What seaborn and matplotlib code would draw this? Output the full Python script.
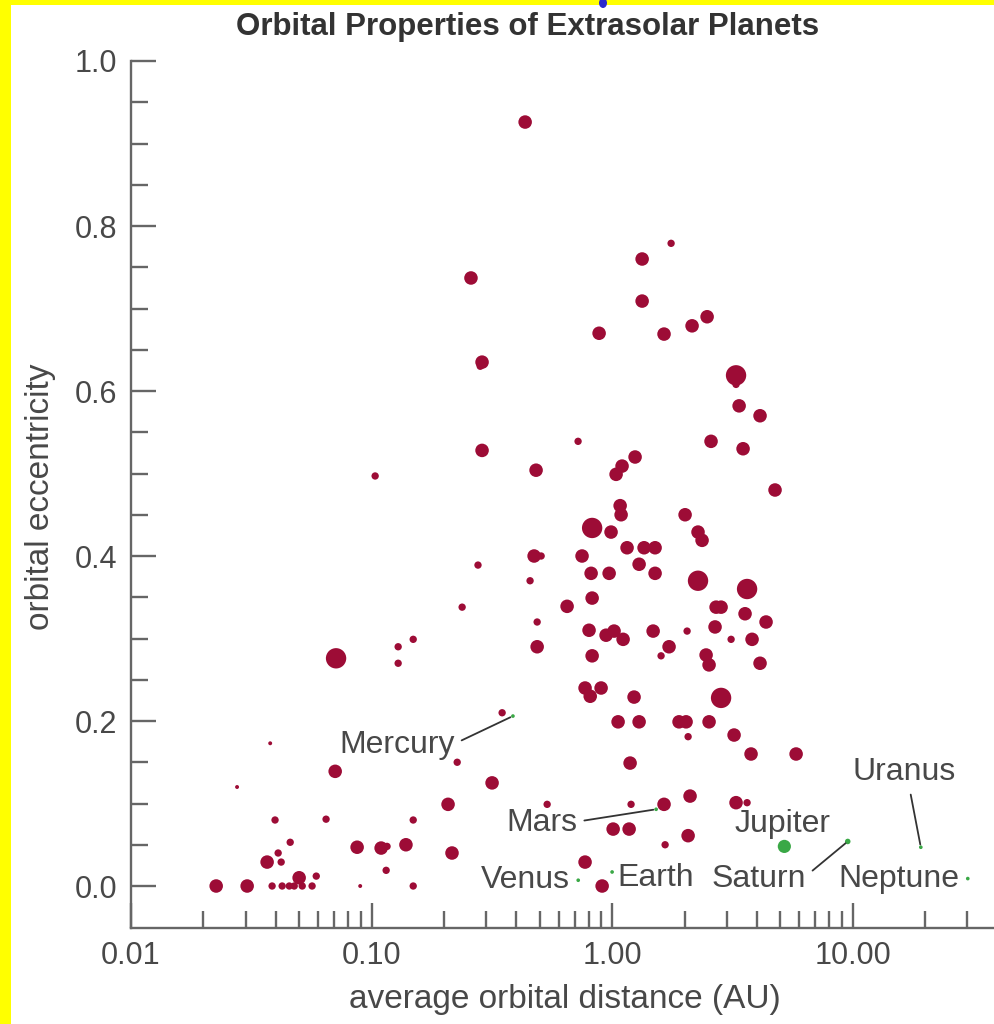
import matplotlib
matplotlib.use("Agg")
import matplotlib.pyplot as plt
import matplotlib.ticker as mticker
from matplotlib.patches import Rectangle, Ellipse
import seaborn as sns
import pandas as pd

# ---------------- data ----------------
exo_distance_au = [
    0.0226, 0.0304, 0.0386, 0.0425, 0.0455, 0.0477, 0.050, 0.0515, 0.0566, 0.0589,
    0.0368, 0.0409, 0.0421, 0.0459, 0.0397, 0.0276, 0.0379, 0.0706, 0.0647, 0.0897,
    0.0871, 0.1096, 0.116, 0.139, 0.115, 0.149, 0.149, 0.208, 0.216, 0.227,
    0.317, 0.349, 0.537, 0.0712, 0.129, 0.129, 0.149, 0.1035, 0.238, 0.277,
    0.456, 0.488, 0.488, 0.474, 0.507, 0.650, 0.288, 0.483, 0.288, 0.283,
    0.259, 0.435, 0.722, 0.883, 1.333, 1.333, 1.759, 1.644, 2.150, 2.483,
    3.275, 3.373, 4.121, 2.578, 3.503, 4.757, 1.039, 1.100, 1.246, 1.080,
    1.090, 2.011, 0.826, 0.990, 2.276, 2.366, 1.154, 1.358, 1.509, 0.750,
    1.295, 0.818, 0.972, 1.509, 2.276, 3.640, 0.826, 2.706, 2.838, 3.570,
    4.365, 0.802, 0.944, 1.019, 1.111, 1.481, 2.050, 2.679, 3.124, 3.818,
    0.826, 1.725, 1.598, 2.459, 2.530, 4.121, 0.772, 0.811, 0.900, 1.234,
    2.838, 1.059, 1.295, 1.898, 2.030, 2.530, 2.070, 3.214, 1.188, 3.781,
    5.820, 1.199, 1.644, 2.109, 3.275, 3.640, 1.010, 1.177, 2.070, 1.661,
    0.772, 0.909, 3.275,
]
exo_eccentricity = [
    0.000, 0.000, 0.000, 0.000, 0.000, 0.000, 0.010, 0.000, 0.000, 0.012,
    0.029, 0.040, 0.029, 0.053, 0.080, 0.120, 0.173, 0.139, 0.081, 0.000,
    0.047, 0.046, 0.048, 0.050, 0.019, 0.000, 0.080, 0.099, 0.040, 0.150,
    0.125, 0.210, 0.099, 0.276, 0.290, 0.270, 0.299, 0.497, 0.338, 0.389,
    0.370, 0.320, 0.290, 0.400, 0.400, 0.339, 0.528, 0.504, 0.635, 0.630,
    0.737, 0.926, 0.539, 0.670, 0.760, 0.709, 0.779, 0.669, 0.679, 0.690,
    0.619, 0.582, 0.570, 0.539, 0.530, 0.480, 0.499, 0.509, 0.520, 0.461,
    0.450, 0.450, 0.434, 0.429, 0.429, 0.419, 0.410, 0.410, 0.410, 0.400,
    0.390, 0.379, 0.379, 0.379, 0.370, 0.360, 0.349, 0.338, 0.338, 0.330,
    0.320, 0.310, 0.304, 0.309, 0.299, 0.309, 0.309, 0.314, 0.299, 0.299,
    0.279, 0.290, 0.279, 0.280, 0.268, 0.270, 0.240, 0.230, 0.240, 0.229,
    0.228, 0.199, 0.199, 0.199, 0.199, 0.199, 0.181, 0.183, 0.149, 0.160,
    0.160, 0.099, 0.099, 0.109, 0.101, 0.101, 0.069, 0.069, 0.061, 0.050,
    0.029, 0.000, 0.608,
]
# relative planet-mass class (1 = tiny ... 4 = large)
exo_mass_class = [
    3, 3, 2, 2, 2, 2, 3, 2, 2, 2,
    3, 2, 2, 2, 2, 1, 1, 3, 2, 1,
    3, 3, 2, 3, 2, 2, 2, 3, 3, 2,
    3, 2, 2, 4, 2, 2, 2, 2, 2, 2,
    2, 2, 3, 3, 2, 3, 3, 3, 3, 2,
    3, 3, 2, 3, 3, 3, 2, 3, 3, 3,
    4, 3, 3, 3, 3, 3, 3, 3, 3, 3,
    3, 3, 4, 3, 3, 3, 3, 3, 3, 3,
    3, 3, 3, 3, 4, 4, 3, 3, 3, 3,
    3, 3, 3, 3, 3, 3, 2, 3, 2, 3,
    3, 3, 2, 3, 3, 3, 3, 3, 3, 3,
    4, 3, 3, 3, 3, 3, 2, 3, 3, 3,
    3, 2, 3, 3, 3, 2, 3, 3, 3, 2,
    3, 3, 2,
]

solar_names = ["Mercury", "Venus", "Earth", "Mars", "Jupiter", "Saturn", "Uranus", "Neptune"]
solar_distance_au = [0.387, 0.723, 1.000, 1.524, 5.20, 9.54, 19.2, 30.1]
solar_eccentricity = [0.206, 0.007, 0.017, 0.093, 0.048, 0.054, 0.047, 0.009]
solar_mass_class = [1, 1, 1, 1, 3, 2, 1, 1]

x_tick_values = [0.01, 0.1, 1.0, 10.0]
x_tick_labels = ["0.01", "0.10", "1.00", "10.00"]
y_tick_values = [0.0, 0.2, 0.4, 0.6, 0.8, 1.0]
y_tick_labels = ["0.0", "0.2", "0.4", "0.6", "0.8", "1.0"]
y_minor_values = [0.05, 0.10, 0.15, 0.25, 0.30, 0.35, 0.45, 0.50, 0.55,
                  0.65, 0.70, 0.75, 0.85, 0.90, 0.95]

title = "Orbital Properties of Extrasolar Planets"
xlabel = "average orbital distance (AU)"
ylabel = "orbital eccentricity"

# ---------------- style ----------------
sns.set_style("ticks")
plt.rcParams["font.family"] = ["Liberation Sans", "DejaVu Sans"]

RED = "#9d0c36"
GREEN = "#3aa846"
TEXT = "#484848"
AXIS = "#666666"

exo = pd.DataFrame({"distance": exo_distance_au, "ecc": exo_eccentricity, "mass": exo_mass_class})
sol = pd.DataFrame({"name": solar_names, "distance": solar_distance_au,
                    "ecc": solar_eccentricity, "mass": solar_mass_class})

fig = plt.figure(figsize=(9.95, 10.24), dpi=100)
fig.patch.set_facecolor("white")
ax = fig.add_axes([131 / 995, 96 / 1024, 864 / 995, 867 / 1024])
ax.set_xscale("log")

size_map = {1: 8, 2: 28, 3: 95, 4: 215}
sns.scatterplot(data=exo, x="distance", y="ecc", size="mass", sizes=size_map,
                color=RED, edgecolor="none", linewidth=0, legend=False, ax=ax,
                clip_on=False, zorder=3)
sol_size_map = {1: 7, 2: 16, 3: 90}
sns.scatterplot(data=sol, x="distance", y="ecc", size="mass", sizes=sol_size_map,
                color=GREEN, edgecolor="none", linewidth=0, legend=False, ax=ax,
                clip_on=False, zorder=4)

ax.set_xlim(0.01, 39.06)
ax.set_ylim(-0.0509, 1.0)

# axes styling
for side in ["top", "right"]:
    ax.spines[side].set_visible(False)
for side in ["left", "bottom"]:
    ax.spines[side].set_color(AXIS)
    ax.spines[side].set_linewidth(1.7)

ax.set_xticks(x_tick_values)
ax.set_xticklabels(x_tick_labels)
ax.xaxis.set_minor_locator(mticker.LogLocator(base=10, subs=[2, 3, 4, 5, 6, 7, 8, 9], numticks=20))
ax.xaxis.set_minor_formatter(mticker.NullFormatter())
ax.set_yticks(y_tick_values)
ax.set_yticklabels(y_tick_labels)
ax.yaxis.set_minor_locator(mticker.FixedLocator(y_minor_values))

ax.tick_params(axis="both", which="major", direction="in", length=18, width=1.7,
               color=AXIS, labelcolor=TEXT, labelsize=22)
ax.tick_params(axis="both", which="minor", direction="in", length=12, width=1.7, color=AXIS)
ax.tick_params(axis="y", which="major", pad=10)
ax.tick_params(axis="x", which="major", pad=9)

ax.set_xlabel(xlabel, fontsize=24, color=TEXT)
ax.xaxis.label.set_va("center")
ax.xaxis.set_label_coords(0.502, -0.083)
ax.set_ylabel(ylabel, fontsize=24, color=TEXT)
ax.yaxis.label.set_va("center")
ax.yaxis.set_label_coords(-0.105, 0.497)

fig.text(528 / 995, 1 - 27 / 1024, title, ha="center", va="center",
         fontsize=22.5, fontweight="bold", color="#333333")

# solar system labels (offsets in points)
label_style = {
    "Mercury": dict(off=(-42, -21), ha="right", va="center", line=True, rel=(1.0, 0.55)),
    "Venus": dict(off=(-6, 0), ha="right", va="center", line=False, rel=None),
    "Earth": dict(off=(4, -4), ha="left", va="center", line=False, rel=None),
    "Mars": dict(off=(-57, -10), ha="right", va="center", line=True, rel=(1.0, 0.55)),
    "Jupiter": dict(off=(-1, 16), ha="center", va="center", line=False, rel=None),
    "Saturn": dict(off=(-30, -27), ha="right", va="center", line=True, rel=(1.0, 0.6)),
    "Uranus": dict(off=(-12, 54), ha="center", va="center", line=True, rel=(0.55, 0.0)),
    "Neptune": dict(off=(-6, 0), ha="right", va="center", line=False, rel=None),
}
for name, d, e in zip(solar_names, solar_distance_au, solar_eccentricity):
    st = label_style[name]
    arrow = None
    if st["line"]:
        arrow = dict(arrowstyle="-", color="#333333", lw=1.3, shrinkA=3, shrinkB=2,
                     relpos=st["rel"])
    ax.annotate(name, xy=(d, e), xytext=st["off"], textcoords="offset points",
                ha=st["ha"], va=st["va"], fontsize=23, color=TEXT,
                arrowprops=arrow, zorder=5, annotation_clip=False)

# screenshot frame (yellow border, blue mark)
fig.patches.append(Rectangle((0, 0), 11 / 995, 1, transform=fig.transFigure,
                             facecolor="#ffff00", edgecolor="none", zorder=10))
fig.patches.append(Rectangle((0, 1 - 5 / 1024), 1, 5 / 1024, transform=fig.transFigure,
                             facecolor="#ffff00", edgecolor="none", zorder=10))
fig.patches.append(Ellipse((603 / 995, 1 - 3 / 1024), 8 / 995, 10 / 1024,
                           transform=fig.transFigure, facecolor="#2a2acc",
                           edgecolor="none", zorder=11))

fig.savefig("out.png", dpi=100, facecolor="white")
